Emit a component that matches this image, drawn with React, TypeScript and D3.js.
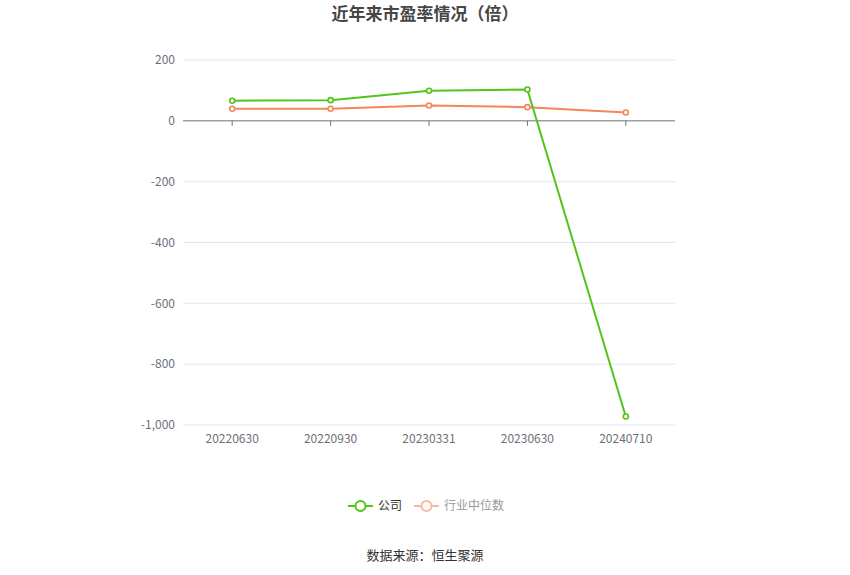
import * as d3 from 'd3'
import { useEffect, useRef } from 'react'

const dates = ['20220630', '20220930', '20230331', '20230630', '20240710']
const companyPE = [66, 68, 99, 103, -972]
const industryPE = [39.5, 39.5, 50.5, 45, 27.5]
const yTicks = [200, 0, -200, -400, -600, -800, -1000]

const GREEN = '#52c41a'
const ORANGE = '#f5875a'
const FONT = '"Noto Sans CJK SC", "Noto Sans", sans-serif'

export default function App(){
  const svgRef = useRef<SVGSVGElement|null>(null)
  const size = { width: 850, height: 575, margin: { top: 60, right: 175, bottom: 150, left: 183 } }

  useEffect(()=>{
    const svg = d3.select(svgRef.current)
    svg.selectAll('*').remove()
    const { width, height, margin } = size
    const innerW = width - margin.left - margin.right
    const innerH = height - margin.top - margin.bottom

    const x = d3.scaleBand<string>().domain(dates).range([margin.left, margin.left + innerW])
    const y = d3.scaleLinear().domain([-1000, 200]).range([margin.top + innerH, margin.top])
    const cx = (d: string)=> (x(d) ?? 0) + x.bandwidth()/2

    // title
    svg.append('text').attr('x', width/2).attr('y', 20).attr('text-anchor', 'middle')
      .attr('font-size', 17).attr('font-weight', 'bold').attr('fill', '#464646')
      .attr('font-family', FONT).text('近年来市盈率情况（倍）')

    // grid
    svg.append('g').selectAll('line')
      .data(yTicks.filter(t=> t !== 0))
      .join('line')
      .attr('x1', margin.left).attr('x2', margin.left + innerW)
      .attr('y1', (d: number)=> y(d)).attr('y2', (d: number)=> y(d))
      .attr('stroke', '#e0e6f1').attr('stroke-width', 1)

    // y labels
    svg.append('g').selectAll('text')
      .data(yTicks)
      .join('text')
      .attr('x', margin.left - 8).attr('y', (d: number)=> y(d)).attr('dy', '0.35em')
      .attr('text-anchor', 'end').attr('font-size', 12).attr('fill', '#6e7079')
      .attr('font-family', FONT)
      .text((d: number)=> d3.format(',')(d).replace('−', '-'))

    // zero axis
    svg.append('line').attr('x1', margin.left).attr('x2', margin.left + innerW)
      .attr('y1', y(0)).attr('y2', y(0)).attr('stroke', '#6e7079')
    svg.append('g').selectAll('line')
      .data(dates)
      .join('line')
      .attr('x1', cx).attr('x2', cx)
      .attr('y1', y(0)).attr('y2', y(0) + 5)
      .attr('stroke', '#6e7079')

    // x labels
    svg.append('g').selectAll('text')
      .data(dates)
      .join('text')
      .attr('x', cx).attr('y', margin.top + innerH + 18)
      .attr('text-anchor', 'middle').attr('font-size', 12).attr('fill', '#6e7079')
      .attr('font-family', FONT).text((d: string)=> d)

    const series = [
      { name: '公司', values: companyPE, color: GREEN },
      { name: '行业中位数', values: industryPE, color: ORANGE },
    ]
    const line = d3.line<number>().x((_, i)=> cx(dates[i])).y((v)=> y(v))
    for(const s of [...series].reverse()){
      svg.append('path').datum(s.values).attr('d', line)
        .attr('fill', 'none').attr('stroke', s.color).attr('stroke-width', 2)
      svg.append('g').selectAll('circle')
        .data(s.values)
        .join('circle')
        .attr('cx', (_: number, i: number)=> cx(dates[i])).attr('cy', (v: number)=> y(v))
        .attr('r', 2.5).attr('fill', '#fff').attr('stroke', s.color).attr('stroke-width', 1.6)
    }

    // legend
    const legend = [
      { name: '公司', color: GREEN, text: '#333', x: 348 },
      { name: '行业中位数', color: '#fbb8a0', text: '#999', x: 414 },
    ]
    const lg = svg.append('g')
    for(const l of legend){
      const ly = 506
      lg.append('line').attr('x1', l.x).attr('x2', l.x + 25).attr('y1', ly).attr('y2', ly)
        .attr('stroke', l.color).attr('stroke-width', 2)
      lg.append('circle').attr('cx', l.x + 12.5).attr('cy', ly).attr('r', 5)
        .attr('fill', '#fff').attr('stroke', l.color).attr('stroke-width', 2)
      lg.append('text').attr('x', l.x + 30).attr('y', ly).attr('dy', '0.35em')
        .attr('font-size', 12).attr('fill', l.text).attr('font-family', FONT).text(l.name)
    }

    // source
    svg.append('text').attr('x', width/2).attr('y', 555).attr('dy', '0.35em')
      .attr('text-anchor', 'middle').attr('font-size', 13).attr('fill', '#333')
      .attr('font-family', FONT).text('数据来源：恒生聚源')
  }, [])

  return (
    <div style={{ position: 'absolute', left: 0, top: 0 }}>
      <svg ref={svgRef} width={size.width} height={size.height} style={{ display: 'block', background: '#fff' }}></svg>
    </div>
  )
}
